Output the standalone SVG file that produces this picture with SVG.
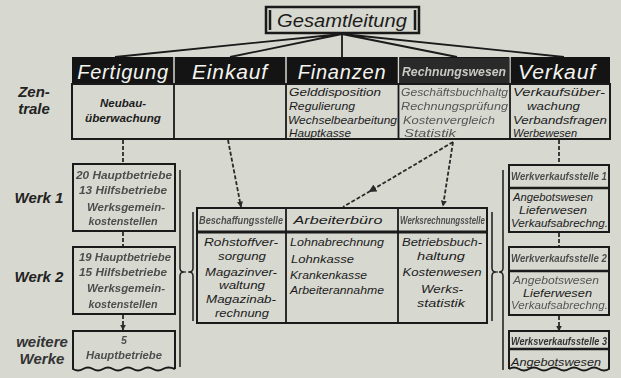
<svg xmlns="http://www.w3.org/2000/svg" width="621" height="378" viewBox="0 0 621 378">
<defs>
<style>
text{font-family:"Liberation Sans",Arial,sans-serif;font-style:italic;fill:#1c1c1c}
.hd{font-size:20px;fill:#f4f4f0;text-anchor:middle;letter-spacing:0.8px}
.b{font-size:11.5px}
.c{text-anchor:middle}
.lbl{font-size:15px;font-weight:bold;text-anchor:middle;fill:#222}
.g{fill:#4e4e4e;font-weight:bold;font-size:10.5px}
.gl{fill:#c8c8c4;font-weight:bold;font-size:13px;text-anchor:middle}
.box{fill:none;stroke:#1a1a1a;stroke-width:2}
.ln{fill:none;stroke:#1a1a1a;stroke-width:1.8}
.br{fill:none;stroke:#262626;stroke-width:1.6}
.dash{fill:none;stroke:#2a2a2a;stroke-width:1.8;stroke-dasharray:4 2}
.dot{fill:none;stroke:#444;stroke-width:1.4;stroke-dasharray:2 2}
.fx{filter:url(#blur)}
</style>
<filter id="blur" x="-5%" y="-30%" width="110%" height="160%"><feGaussianBlur stdDeviation="0.45"/></filter>
<marker id="ah" viewBox="0 0 10 10" refX="9" refY="5" markerWidth="6" markerHeight="6" orient="auto" markerUnits="userSpaceOnUse"><path d="M0,0 L10,5 L0,10 Z" fill="#2a2a2a"/></marker>
<marker id="ahm" viewBox="0 0 10 10" refX="5" refY="5" markerWidth="8" markerHeight="8" orient="auto" markerUnits="userSpaceOnUse"><path d="M0,0 L10,5 L0,10 Z" fill="#2a2a2a"/></marker>
</defs>
<rect width="621" height="378" fill="#d7d8d0"/>

<g id="connectors">
<path class="ln" d="M342,34 L115,57 M342,34 L230,57 M342,34 L342,57 M342,34 L457,57 M342,34 L564,57"/>
<path class="dash" d="M123,140 V164 M123,232 V247"/>
<path class="dash" d="M123,315 V330" marker-end="url(#ah)"/>
<path class="dash" d="M559,140 V165 M559,233 V247"/>
<path class="dash" d="M559,316 V331" marker-end="url(#ah)"/>
<path class="dash" d="M228,140 L241,207" marker-end="url(#ah)"/>
<path class="dash" d="M453,142 L372,190 L343,207" marker-mid="url(#ahm)"/>
<path class="dash" d="M453,142 L443,206" marker-end="url(#ah)"/>
<path class="br" d="M180,170 V268 Q180,272 184,272 Q180,272 180,276 V367"/>
<path class="br" d="M193,212 V268 Q193,272 189,272 Q193,272 193,276 V321"/>
<path class="br" d="M492,212 V268 Q492,272 496,272 Q492,272 492,276 V321"/>
<path class="br" d="M503,170 V268 Q503,272 499,272 Q503,272 503,276 V370"/>
<path class="dot" d="M184,272 H189 M496,272 H499"/>
</g>

<g id="gesamtleitung">
<rect x="266" y="7" width="153" height="26" fill="none" stroke="#1a1a1a" stroke-width="2.5"/>
<path d="M270,10 V30 M415,10 V30" stroke="#1a1a1a" stroke-width="2.5"/>
<text x="342" y="27" font-size="18" text-anchor="middle" textLength="130" lengthAdjust="spacingAndGlyphs">Gesamtleitung</text>
</g>

<g id="zentrale-label">
<text class="lbl" x="34" y="97">Zen-</text>
<text class="lbl" x="34" y="114">trale</text>
</g>

<g id="header-row">
<rect x="72" y="57" width="538" height="27" fill="#141414"/>
<path d="M174,57 V84 M286,57 V84 M398.5,57 V84 M510,57 V84" stroke="#d7d8d0" stroke-width="1.5"/>
<rect x="399.5" y="58" width="110" height="25" fill="#2a2a2a"/>
<rect x="72" y="84" width="538" height="55" class="box"/>
<path class="ln" d="M174,84 V139 M286,84 V139 M398.5,84 V139 M510,84 V139"/>
</g>

<g id="fertigung">
<text class="hd" x="123" y="79">Fertigung</text>
<text class="b c" x="123" y="107" font-weight="bold">Neubau-</text>
<text class="b c" x="123" y="122" font-weight="bold" textLength="76" lengthAdjust="spacingAndGlyphs">überwachung</text>
</g>

<g id="einkauf">
<text class="hd" x="230" y="79" textLength="76" lengthAdjust="spacingAndGlyphs">Einkauf</text>
</g>

<g id="finanzen">
<text class="hd" x="342" y="79">Finanzen</text>
<text class="b" x="289" y="96" textLength="92" lengthAdjust="spacingAndGlyphs">Gelddisposition</text>
<text class="b" x="289" y="110" textLength="66" lengthAdjust="spacingAndGlyphs">Regulierung</text>
<text class="b" x="288" y="123.5" textLength="109" lengthAdjust="spacingAndGlyphs">Wechselbearbeitung</text>
<text class="b" x="289" y="137" textLength="62" lengthAdjust="spacingAndGlyphs">Hauptkasse</text>
</g>

<g id="rechnungswesen">
<text class="gl fx" x="454" y="76" textLength="104" lengthAdjust="spacingAndGlyphs">Rechnungswesen</text>
<g class="fx">
<text class="b" x="401" y="96" fill="#555" style="fill:#555" textLength="107" lengthAdjust="spacingAndGlyphs">Geschäftsbuchhaltg</text>
<text class="b" x="401" y="110" style="fill:#555" textLength="107" lengthAdjust="spacingAndGlyphs">Rechnungsprüfung</text>
<text class="b" x="403" y="123.5" style="fill:#555" textLength="92" lengthAdjust="spacingAndGlyphs">Kostenvergleich</text>
<text class="b" x="404" y="137" style="fill:#555" textLength="52" lengthAdjust="spacingAndGlyphs">Statistik</text>
</g>
</g>

<g id="verkauf">
<text class="hd" x="557" y="79" textLength="78" lengthAdjust="spacingAndGlyphs">Verkauf</text>
<text class="b" x="513" y="96" textLength="92" lengthAdjust="spacingAndGlyphs">Verkaufsüber-</text>
<text class="b" x="527" y="110" textLength="53" lengthAdjust="spacingAndGlyphs">wachung</text>
<text class="b" x="513" y="123.5" textLength="94" lengthAdjust="spacingAndGlyphs">Verbandsfragen</text>
<text class="b" x="513" y="137" textLength="64" lengthAdjust="spacingAndGlyphs">Werbewesen</text>
</g>

<g id="werk1">
<text class="lbl" x="39" y="203">Werk 1</text>
<rect x="73" y="164" width="102" height="67" class="box"/>
<g class="fx">
<text class="g c" x="124" y="179" textLength="96" lengthAdjust="spacingAndGlyphs">20 Hauptbetriebe</text>
<text class="g c" x="123" y="194" textLength="88" lengthAdjust="spacingAndGlyphs">13 Hilfsbetriebe</text>
<text class="g c" x="126" y="211" textLength="78" lengthAdjust="spacingAndGlyphs">Werksgemein-</text>
<text class="g c" x="123" y="225" textLength="69" lengthAdjust="spacingAndGlyphs">kostenstellen</text>
</g>
</g>

<g id="werk2">
<text class="lbl" x="39" y="282">Werk 2</text>
<rect x="73" y="247" width="102" height="67" class="box"/>
<g class="fx">
<text class="g c" x="125" y="261" textLength="92" lengthAdjust="spacingAndGlyphs">19 Hauptbetriebe</text>
<text class="g c" x="123" y="276" textLength="88" lengthAdjust="spacingAndGlyphs">15 Hilfsbetriebe</text>
<text class="g c" x="126" y="292" textLength="78" lengthAdjust="spacingAndGlyphs">Werksgemein-</text>
<text class="g c" x="123" y="308" textLength="69" lengthAdjust="spacingAndGlyphs">kostenstellen</text>
</g>
</g>

<g id="weitere-werke">
<text class="lbl" x="42" y="347" style="fill:#333">weitere</text>
<text class="lbl" x="42" y="364" style="fill:#333">Werke</text>
<path class="box" d="M175,369 V331 H73 V369 Q78,372 83,369 T93,369 T103,369 T113,369 T123,369 T133,369 T143,369 T153,369 T163,369 T175,369"/>
<g class="fx">
<text class="g c" x="124" y="344">5</text>
<text class="g c" x="124" y="359" textLength="76" lengthAdjust="spacingAndGlyphs">Hauptbetriebe</text>
</g>
</g>

<g id="werksstellen">
<rect x="197" y="208" width="290" height="115" class="box"/>
<path d="M197,232 H487" stroke="#1a1a1a" stroke-width="3"/>
<path class="ln" d="M286,208 V323 M398,208 V323"/>
<text class="g fx" x="199" y="224" style="font-size:10px" textLength="84" lengthAdjust="spacingAndGlyphs">Beschaffungsstelle</text>
<text class="b c" x="338" y="224" font-size="12" textLength="89" lengthAdjust="spacingAndGlyphs">Arbeiterbüro</text>
<text class="g fx" x="400" y="224" style="font-size:10px" textLength="85" lengthAdjust="spacingAndGlyphs">Werksrechnungsstelle</text>
<text class="b c" x="241" y="246" textLength="74" lengthAdjust="spacingAndGlyphs">Rohstoffver-</text>
<text class="b c" x="242" y="260" textLength="48" lengthAdjust="spacingAndGlyphs">sorgung</text>
<text class="b c" x="241" y="276" textLength="72" lengthAdjust="spacingAndGlyphs">Magazinver-</text>
<text class="b c" x="242" y="289" textLength="46" lengthAdjust="spacingAndGlyphs">waltung</text>
<text class="b c" x="241" y="303" textLength="70" lengthAdjust="spacingAndGlyphs">Magazinab-</text>
<text class="b c" x="242" y="317" textLength="54" lengthAdjust="spacingAndGlyphs">rechnung</text>
<text class="b" x="290" y="246" textLength="94" lengthAdjust="spacingAndGlyphs">Lohnabrechnung</text>
<text class="b" x="291" y="263" textLength="63" lengthAdjust="spacingAndGlyphs">Lohnkasse</text>
<text class="b" x="290" y="279" textLength="77" lengthAdjust="spacingAndGlyphs">Krankenkasse</text>
<text class="b" x="290" y="294" textLength="94" lengthAdjust="spacingAndGlyphs">Arbeiterannahme</text>
<text class="b c" x="442" y="246" textLength="80" lengthAdjust="spacingAndGlyphs">Betriebsbuch-</text>
<text class="b c" x="441" y="260" textLength="48" lengthAdjust="spacingAndGlyphs">haltung</text>
<text class="b c" x="442" y="276" textLength="79" lengthAdjust="spacingAndGlyphs">Kostenwesen</text>
<text class="b c" x="442" y="293" textLength="42" lengthAdjust="spacingAndGlyphs">Werks-</text>
<text class="b c" x="441" y="307" textLength="48" lengthAdjust="spacingAndGlyphs">statistik</text>
</g>

<g id="werksverkaufsstelle1">
<rect x="509" y="165" width="100" height="67" class="box"/>
<path d="M509,188 H609" stroke="#1a1a1a" stroke-width="2.5"/>
<text class="g fx" x="511" y="180" style="font-size:10px" textLength="96" lengthAdjust="spacingAndGlyphs">Werkverkaufsstelle 1</text>
<text class="b" x="513" y="201" textLength="80" lengthAdjust="spacingAndGlyphs">Angebotswesen</text>
<text class="b" x="519" y="214" textLength="68" lengthAdjust="spacingAndGlyphs">Lieferwesen</text>
<text class="b" x="511" y="227" textLength="97" lengthAdjust="spacingAndGlyphs">Verkaufsabrechng.</text>
</g>

<g id="werksverkaufsstelle2">
<rect x="509" y="247" width="100" height="68" class="box"/>
<path d="M509,271 H609" stroke="#1a1a1a" stroke-width="2.5"/>
<g class="fx">
<text class="g" x="511" y="262" style="font-size:10px" textLength="96" lengthAdjust="spacingAndGlyphs">Werkverkaufsstelle 2</text>
<text class="b" x="513" y="284" style="fill:#555" textLength="86" lengthAdjust="spacingAndGlyphs">Angebotswesen</text>
</g>
<text class="b" x="523" y="297" textLength="69" lengthAdjust="spacingAndGlyphs">Lieferwesen</text>
<text class="b fx" x="511" y="309" style="fill:#555" textLength="97" lengthAdjust="spacingAndGlyphs">Verkaufsabrechng.</text>
</g>

<g id="werksverkaufsstelle3">
<path class="box" d="M509,369 V331 H609 V369 Q604,372 599,369 T589,369 T579,369 T569,369 T559,369 T549,369 T539,369 T529,369 T519,369 T509,369"/>
<path d="M509,349 H609" stroke="#1a1a1a" stroke-width="2.5"/>
<text class="g fx" x="511" y="345" style="font-size:10px;fill:#333" textLength="96" lengthAdjust="spacingAndGlyphs">Werksverkaufsstelle 3</text>
<text class="b" x="511" y="366" textLength="90" lengthAdjust="spacingAndGlyphs">Angebotswesen</text>
</g>
</svg>
